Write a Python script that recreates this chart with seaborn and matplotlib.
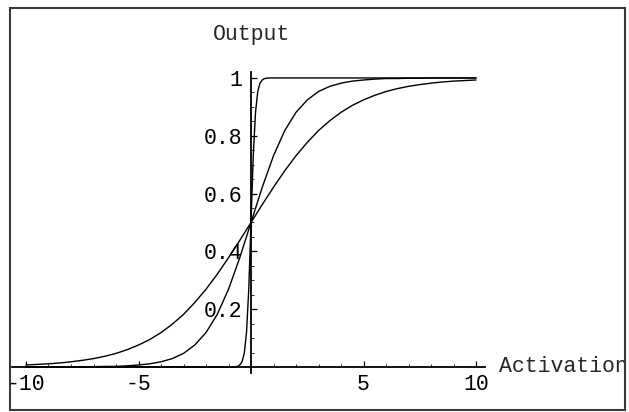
import numpy as np
import pandas as pd
import matplotlib
matplotlib.use("Agg")
import matplotlib.pyplot as plt
from matplotlib.patches import Rectangle
from matplotlib.ticker import FixedLocator
import seaborn as sns

# activation grid shared by the two smooth curves
activation = [-10, -9.5, -9, -8.5, -8, -7.5, -7, -6.5, -6, -5.5, -5, -4.5, -4, -3.5,
              -3, -2.5, -2, -1.5, -1, -0.5, 0, 0.5, 1, 1.5, 2, 2.5, 3, 3.5, 4, 4.5,
              5, 5.5, 6, 6.5, 7, 7.5, 8, 8.5, 9, 9.5, 10]

# shallow curve (gain ~0.5)
out_shallow = [0.007, 0.009, 0.011, 0.014, 0.018, 0.023, 0.029, 0.037, 0.047, 0.060,
               0.076, 0.095, 0.119, 0.148, 0.182, 0.223, 0.269, 0.321, 0.378, 0.438,
               0.500, 0.562, 0.622, 0.679, 0.731, 0.777, 0.818, 0.852, 0.881, 0.905,
               0.924, 0.940, 0.953, 0.963, 0.971, 0.977, 0.982, 0.986, 0.989, 0.991, 0.993]

# middle curve (gain ~1)
out_middle = [0.000, 0.000, 0.000, 0.000, 0.000, 0.001, 0.001, 0.002, 0.002, 0.004,
              0.007, 0.011, 0.018, 0.029, 0.047, 0.076, 0.119, 0.182, 0.269, 0.378,
              0.500, 0.622, 0.731, 0.818, 0.881, 0.924, 0.953, 0.971, 0.982, 0.989,
              0.993, 0.996, 0.998, 0.998, 0.999, 0.999, 1.000, 1.000, 1.000, 1.000, 1.000]

# steep curve (almost a step)
activation_steep = [-10, -1, -0.8, -0.6, -0.5, -0.4, -0.3, -0.2, -0.1, 0, 0.1, 0.2,
                    0.3, 0.4, 0.5, 0.6, 0.8, 1, 10]
out_steep = [0.000, 0.000, 0.000, 0.002, 0.007, 0.018, 0.047, 0.119, 0.269, 0.500,
             0.731, 0.881, 0.953, 0.982, 0.993, 0.998, 1.000, 1.000, 1.000]

x_major = [-10, -5, 5, 10]
y_major = [0.2, 0.4, 0.6, 0.8, 1.0]
y_labels = ["0.2", "0.4", "0.6", "0.8", "1"]

sns.set_style("white")
plt.rcParams["font.family"] = ["Liberation Mono", "DejaVu Sans Mono"]
plt.rcParams["axes.unicode_minus"] = False

fig = plt.figure(figsize=(6.29, 4.12), dpi=100)
fig.patch.set_facecolor("white")
ax = fig.add_axes([0.00556, 0.0391, 0.787, 0.912])
ax.set_facecolor("none")

curves = pd.DataFrame({"x": activation, "shallow": out_shallow, "middle": out_middle})
sns.lineplot(data=curves, x="x", y="shallow", color="black", lw=1.0, ax=ax)
sns.lineplot(data=curves, x="x", y="middle", color="black", lw=1.0, ax=ax)
sns.lineplot(x=activation_steep, y=out_steep, color="black", lw=1.0, ax=ax)

ax.set_xlim(-11, 11)
ax.set_ylim(-0.1, 1.2)
ax.set_xlabel("")
ax.set_ylabel("")

for s in ["top", "right"]:
    ax.spines[s].set_visible(False)
ax.spines["left"].set_position(("data", 0))
ax.spines["bottom"].set_position(("data", 0))
ax.spines["left"].set_bounds(-0.02, 1.02)
ax.spines["bottom"].set_bounds(-10.6, 10.4)
for s in ["left", "bottom"]:
    ax.spines[s].set_linewidth(1.3)
    ax.spines[s].set_color("black")

ax.xaxis.set_major_locator(FixedLocator(x_major))
ax.xaxis.set_minor_locator(FixedLocator(np.arange(-10, 11, 1)))
ax.set_xticklabels([str(v) for v in x_major])
ax.yaxis.set_major_locator(FixedLocator(y_major))
ax.yaxis.set_minor_locator(FixedLocator(np.arange(0.05, 1.0, 0.05)))
ax.set_yticklabels(y_labels)

ax.tick_params(axis="both", which="both", bottom=True, left=True, top=False, right=False)
ax.tick_params(axis="both", which="major", direction="in", length=4, width=0.9,
               labelsize=15.5, colors="black", pad=5)
ax.tick_params(axis="both", which="minor", direction="in", length=2, width=0.7)
ax.tick_params(axis="y", which="major", pad=6)

ax.text(0, 1.15, "Output", ha="center", va="center", fontsize=15.5)
ax.text(11.0, 0.0, "Activation", ha="left", va="center", fontsize=15.5, clip_on=False)

fig.patches.append(Rectangle((10 / 629, 2 / 412), 615 / 629, 402 / 412,
                             transform=fig.transFigure, fill=False,
                             edgecolor="#3a3a3a", lw=1.5))

fig.savefig("out.png", dpi=100)
